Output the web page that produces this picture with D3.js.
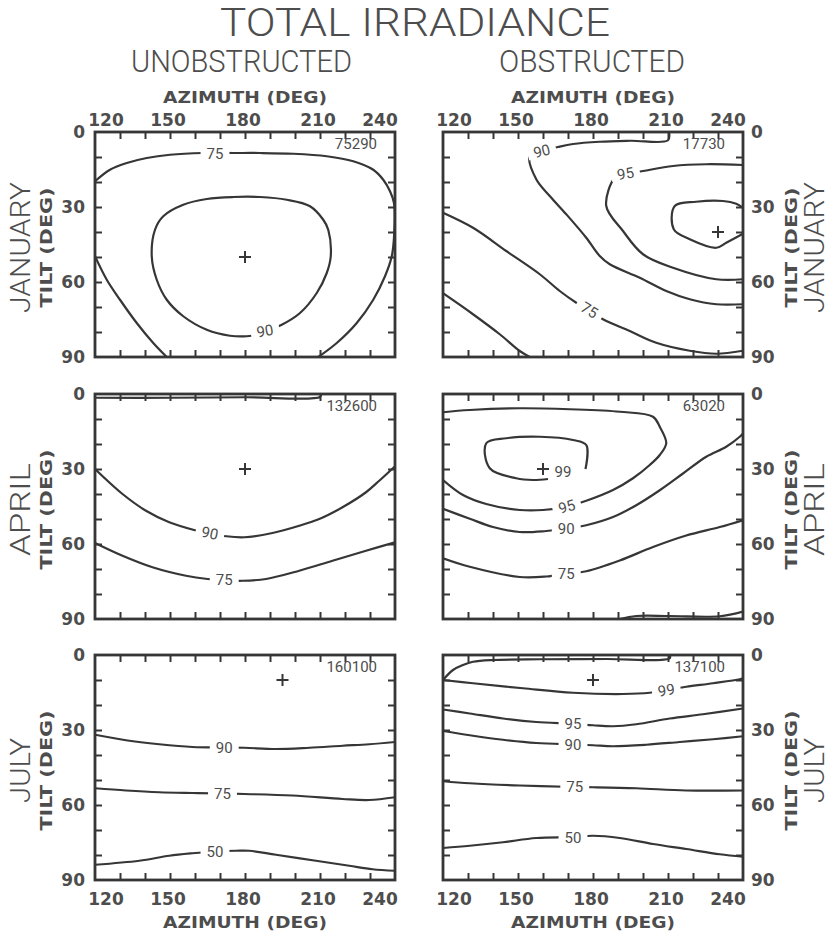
<!DOCTYPE html>
<html>
<head>
<meta charset="utf-8">
<script src="https://cdn.jsdelivr.net/npm/d3@7"></script>
<style>
body { margin: 0; background: #fff; }
</style>
</head>
<body>
<svg id="chart" width="832" height="933"></svg>
<script>
// ---- data ----
var title = 'TOTAL IRRADIANCE';
var columns = ['UNOBSTRUCTED', 'OBSTRUCTED'];
var months = ['JANUARY', 'APRIL', 'JULY'];
var azTicks = [120, 150, 180, 210, 240];
var tiltTicks = [0, 30, 60, 90];
var azTitle = 'AZIMUTH (DEG)';
var tiltTitle = 'TILT (DEG)';

// peak irradiance printed in each panel corner [row][col]
var peaks = [['75290', '17730'], ['132600', '63020'], ['160100', '137100']];
// optimum (azimuth, tilt) marked by +
var maxima = [[[180, 50], [230, 40]], [[180, 30], [160, 30]], [[195, 10], [180, 10]]];

// contours: level (null = unlabeled), label position [az, tilt], points [az, tilt]
var janUnobs = [
	{level: 75, label: [168, 8.6], pts: [[120,19.7],[126,15.1],[132.7,12.4],[140.7,10.4],[150,9.1],[163.3,8.4],[175.3,8.4],[186,8.4],[199.3,8.7],[212.7,9.7],[223.3,11.7],[231.3,15.1],[235.3,19.1],[238,23.7],[239.6,28.4],[239.7,40.4],[238.7,49.7],[236,57.7],[231.3,67.1],[224.7,76.4],[216.7,84.4],[209.3,90]]},
	{level: null, pts: [[120,49.7],[124.7,59.1],[130,67.1],[136.7,76.4],[143.3,84.4],[148.7,90]]},
	{level: 90, label: [188, 79.5], closed: true, pts: [[194.7,77.1],[202,72.4],[208.7,64.4],[212.7,56.4],[214.3,49.7],[213.3,39.1],[211.3,35.1],[206,29.7],[196.7,27.1],[186,26],[175.3,26],[164.7,26.8],[155.3,29.1],[147.3,33.7],[144,39.1],[142.7,49.7],[144.7,59.1],[148.7,67.1],[155.3,73.7],[164.7,79.1],[174,81.5],[180.7,81.7],[185,81]]}
];
var janObs = [
	{level: 90, label: [159.5, 7.6], pts: [[210.4,0],[210,3.3],[195,3.5],[182.7,3.9],[172,4.8],[166,6],[159,7.8],[154.7,9.6],[157.3,18.9],[162.7,25.6],[169.3,32.9],[177.3,42.3],[182.7,49.6],[186.7,52.9],[198.7,58.3],[209.3,63.6],[218.7,66.9],[229.3,68.9],[240,68.9]]},
	{level: 95, label: [193, 16.6], pts: [[240,13.2],[225.3,12.9],[212,13.6],[200,15.6],[192,17],[188.7,18.3],[185.3,29.6],[192,39.6],[200,48.9],[212,54.3],[229.3,58.9],[240,58.9]]},
	{level: null, pts: [[240,30.3],[237.3,28.7],[232,27.6],[221.3,27.9],[212.7,29.6],[212.3,38.9],[218.7,42.9],[229.3,46.3],[233.3,44.3],[240,40.7]]},
	{level: 75, label: [178.6, 71.2], pts: [[120,32.3],[132,38.3],[145.3,47.6],[158.7,56.9],[166.7,63.6],[173.3,68.3],[178.7,71.5],[184,74.9],[194.7,79.6],[205.3,84.3],[218.7,87.5],[229.3,88.7],[240,87.5]]},
	{level: null, pts: [[120,64.5],[132,72.9],[142.7,80.9],[150.7,87.6],[154.7,90]]}
];
var aprUnobs = [
	{level: null, pts: [[120,1.5],[150,1.5],[180,1.3],[210,1.2],[210.5,0]]},
	{level: 90, label: [166, 55.6], pts: [[120,30],[131,40],[140.4,46.7],[149.7,51.3],[160,54.5],[166,55.8],[172.4,56.9],[179.7,57.3],[191,55.6],[201.7,52.7],[209.7,50],[219,45.3],[228.4,39.3],[233.7,34.7],[240,28.9]]},
	{level: 75, label: [171.7, 74.2], pts: [[120,59.6],[131,64.7],[143,69.3],[156.4,72.7],[165,74],[171.7,74.5],[179,74.7],[188.4,74],[201.7,70.7],[215,66.7],[228.4,62.7],[240,59.3]]}
];
var aprObs = [
	{level: 95, label: [169.5, 45], pts: [[120,7.3],[130.7,6.4],[150.7,5.7],[170.7,6.1],[190.7,7.1],[204,9.1],[206.7,13.1],[209.3,19.7],[206.7,24.4],[202.7,28.4],[196,33.7],[188,38.4],[177.3,42.7],[169.3,45.1],[160,46.4],[150.7,46.4],[137.3,44],[128,40.4],[120,34.4]]},
	{level: 99, label: [168, 31], pts: [[177,30],[177.3,20.4],[172,18.4],[158.7,17.1],[145.3,17.7],[137.3,19.7],[138.7,29.7],[149.3,33.7],[156,34.4],[162,34]]},
	{level: 90, label: [169.3, 54], pts: [[120,45.9],[130.7,49.9],[140,53.2],[150.7,55.2],[161.3,54.8],[169.3,53.9],[177.3,52.5],[188,49.2],[197.3,44.5],[206.7,38.5],[216,31.8],[225.3,25.1],[233.3,21.1],[238.7,17.1],[240,15.8]]},
	{level: 75, label: [169.3, 72], pts: [[120,65.7],[130.7,69.1],[150.7,73.2],[161.3,73],[169.3,71.9],[177.3,70.9],[190.7,66.6],[204,61.2],[217.3,56.6],[230.7,53.2],[240,50.5]]},
	{level: null, pts: [[190.7,90],[197.3,88.8],[210.7,88.8],[230.7,88.9],[240,87]]}
];
var julUnobs = [
	{level: 90, label: [171.7, 36.9], pts: [[120,31.9],[132.4,34.1],[145.7,35.7],[159,36.8],[171.7,37],[179.7,37.1],[192.4,37.6],[205.7,37.1],[219,36.3],[229.7,35.7],[240,34.8]]},
	{level: 75, label: [171, 55.3], pts: [[120,53.3],[132.4,54.2],[145.7,54.9],[159,55.2],[171,55.4],[179.7,55.6],[199,56.2],[219,57.6],[229.7,58],[240,56.9]]},
	{level: 50, label: [168, 78.7], pts: [[120,83.9],[137.7,82.3],[149.7,80.3],[159,79.3],[167.7,78.6],[176.4,78.3],[181.7,78.3],[192.4,79.9],[208.4,82.3],[221.7,84.3],[231,85.7],[240,86.3]]}
];
var julObs = [
	{level: null, pts: [[120,10],[124,6],[128,4],[132,2.7],[140,2],[158.7,1.7],[185.3,1.6],[210.7,1.3],[210.7,0]]},
	{level: 99, label: [209.3, 14], pts: [[120,10],[132,11.3],[152,13.3],[172,15.1],[192,15.6],[202.7,15.1],[209.3,14],[217.3,12.7],[228,11.3],[238.7,9.7],[240,9.3]]},
	{level: 95, label: [172, 27.4], pts: [[120,21.8],[130.7,23.4],[144,25.4],[157.3,26.8],[172,27.5],[180,28.1],[188,28.5],[197.3,27.7],[210.7,25.4],[224,23.7],[240,21.4]]},
	{level: 90, label: [172, 35.8], pts: [[120,30.4],[130.7,32.1],[144,33.9],[157.3,35.2],[172,35.8],[180,36.1],[188,36.5],[201.3,35.9],[214.7,34.8],[228,33.7],[240,32.5]]},
	{level: 75, label: [172.7, 52.8], pts: [[120,50.5],[130.7,51.3],[150.7,52.2],[172.7,52.8],[180,52.9],[197.3,53.3],[217.3,54.2],[240,54.2]]},
	{level: 50, label: [172, 72.9], pts: [[120,77.2],[130.7,76.3],[144,74.9],[157.3,73.2],[172,72.8],[180,72.3],[190.7,73.2],[204,75.6],[217.3,77.6],[230.7,79.7],[240,80.7]]}
];
var panels = [[janUnobs, janObs], [aprUnobs, aprObs], [julUnobs, julObs]];

// ---- layout ----
var colX = [95, 443];
var rowY = [132, 394, 655];
var pw = 300, ph = 225;
var ink = '#363636';
var grey = '#4d4d4d';
var thin = 'Roboto, "Liberation Sans", sans-serif';
var bold = '"DejaVu Sans", sans-serif';

var svg = d3.select('#chart');

svg.append('text')
	.text(title)
	.attr('x', 415).attr('y', 36)
	.attr('text-anchor', 'middle')
	.attr('font-family', thin).attr('font-weight', 300)
	.attr('font-size', 38)
	.attr('textLength', 390).attr('lengthAdjust', 'spacingAndGlyphs')
	.attr('fill', grey);

var colLens = [221, 186];
var colCx = [241.5, 592];
svg.selectAll('text.col')
	.data(columns)
	.enter()
	.append('text')
	.attr('class', 'col')
	.text(function (d) {return d;})
	.attr('x', function (d, i) {return colCx[i];})
	.attr('y', 72)
	.attr('text-anchor', 'middle')
	.attr('font-family', thin).attr('font-weight', 300)
	.attr('font-size', 31)
	.attr('textLength', function (d, i) {return colLens[i];})
	.attr('lengthAdjust', 'spacingAndGlyphs')
	.attr('fill', grey);

var monthLens = [131, 93, 65];

function labelAngle(pts, az, t, x, y) {
	var px = x(az), py = y(t), best = Infinity, ang = 0;
	for (var i = 0; i < pts.length - 1; i++) {
		var ax = x(pts[i][0]), ay = y(pts[i][1]);
		var dx = x(pts[i + 1][0]) - ax, dy = y(pts[i + 1][1]) - ay;
		var L = dx * dx + dy * dy;
		var u = L ? Math.max(0, Math.min(1, ((px - ax) * dx + (py - ay) * dy) / L)) : 0;
		var cx = ax + u * dx, cy = ay + u * dy;
		var d = (px - cx) * (px - cx) + (py - cy) * (py - cy);
		if (d < best) {best = d; ang = Math.atan2(dy, dx) * 180 / Math.PI;}
	}
	if (ang > 90) ang -= 180;
	if (ang < -90) ang += 180;
	return Math.abs(ang) < 9 ? 0 : ang;
}

panels.forEach(function (row, r) {
	row.forEach(function (contours, c) {
		var x0 = colX[c], y0 = rowY[r];
		var x = d3.scaleLinear().domain([120, 240]).range([x0, x0 + pw]);
		var y = d3.scaleLinear().domain([0, 90]).range([y0, y0 + ph]);
		var g = svg.append('g');
		var clipId = 'clip' + r + c;
		g.append('clipPath').attr('id', clipId)
			.append('rect').attr('x', x0).attr('y', y0).attr('width', pw).attr('height', ph);

		var lines = g.append('g').attr('clip-path', 'url(#' + clipId + ')');
		lines.selectAll('path')
			.data(contours)
			.enter()
			.append('path')
			.attr('d', function (d) {
				return d3.line()
					.x(function (p) {return x(p[0]);})
					.y(function (p) {return y(p[1]);})
					.curve(d.closed ? d3.curveCatmullRomClosed.alpha(0.5) : d3.curveCatmullRom.alpha(0.5))(d.pts);
			})
			.attr('fill', 'none')
			.attr('stroke', ink)
			.attr('stroke-width', 2.2);

		// contour labels sit in a white gap cut out of the line
		contours.filter(function (d) {return d.level !== null;}).forEach(function (d) {
			var ang = labelAngle(d.pts, d.label[0], d.label[1], x, y);
			var lg = lines.append('g')
				.attr('transform', 'translate(' + x(d.label[0]) + ',' + y(d.label[1]) + ') rotate(' + ang + ')');
			var t = lg.append('text')
				.text(d.level)
				.attr('text-anchor', 'middle')
				.attr('dy', '0.36em')
				.attr('font-family', thin)
				.attr('font-size', 15)
				.attr('fill', grey);
			var bb = t.node().getBBox();
			lg.insert('rect', 'text')
				.attr('x', bb.x - 6).attr('y', -6)
				.attr('width', bb.width + 12).attr('height', 12)
				.attr('fill', '#fff');
		});

		// optimum marker
		g.append('path')
			.attr('d', 'M-6,0H6M0,-6V6')
			.attr('transform', 'translate(' + x(maxima[r][c][0]) + ',' + y(maxima[r][c][1]) + ')')
			.attr('stroke', ink)
			.attr('stroke-width', 2);

		// inward ticks every 10 degrees
		var azMinor = d3.range(130, 240, 10), tiltMinor = d3.range(10, 90, 10);
		[[d3.axisTop(x).tickValues(azMinor), 'translate(0,' + y0 + ')'],
		 [d3.axisBottom(x).tickValues(azMinor), 'translate(0,' + (y0 + ph) + ')'],
		 [d3.axisLeft(y).tickValues(tiltMinor), 'translate(' + x0 + ',0)'],
		 [d3.axisRight(y).tickValues(tiltMinor), 'translate(' + (x0 + pw) + ',0)']
		].forEach(function (a) {
			var ax = g.append('g')
				.attr('transform', a[1])
				.call(a[0].tickSizeInner(-7).tickSizeOuter(0).tickFormat(''));
			ax.select('.domain').remove();
			ax.selectAll('line').attr('stroke', ink).attr('stroke-width', 2);
		});

		g.append('rect')
			.attr('x', x0).attr('y', y0).attr('width', pw).attr('height', ph)
			.attr('fill', 'none')
			.attr('stroke', ink)
			.attr('stroke-width', 2.8);

		g.append('text')
			.text(peaks[r][c])
			.attr('x', x0 + pw - 18).attr('y', y0 + 17)
			.attr('text-anchor', 'end')
			.attr('font-family', thin)
			.attr('font-size', 15)
			.attr('fill', grey);

		// tilt tick labels: left column on the left, right column on the right
		g.selectAll('text.tilt')
			.data(tiltTicks)
			.enter()
			.append('text')
			.attr('class', 'tilt')
			.text(function (d) {return d;})
			.attr('x', c === 0 ? x0 - 10 : x0 + pw + 8)
			.attr('y', function (d) {return y(d);})
			.attr('dy', '0.36em')
			.attr('text-anchor', c === 0 ? 'end' : 'start')
			.attr('font-family', bold).attr('font-weight', 'bold')
			.attr('font-size', 17)
			.attr('fill', grey);

		var cy = y0 + ph / 2 + 3;
		var tx = c === 0 ? 52 : 797;
		g.append('text')
			.text(tiltTitle)
			.attr('transform', 'translate(' + tx + ',' + cy + ') rotate(-90)')
			.attr('text-anchor', 'middle')
			.attr('font-family', bold).attr('font-weight', 'bold')
			.attr('font-size', 16)
			.attr('textLength', 120).attr('lengthAdjust', 'spacingAndGlyphs')
			.attr('fill', grey);
		var mx = c === 0 ? 30 : 824;
		g.append('text')
			.text(months[r])
			.attr('transform', 'translate(' + mx + ',' + cy + ') rotate(-90)')
			.attr('text-anchor', 'middle')
			.attr('font-family', thin).attr('font-weight', 300)
			.attr('font-size', 28)
			.attr('textLength', monthLens[r])
			.attr('lengthAdjust', 'spacingAndGlyphs')
			.attr('fill', grey);

		// azimuth labels on the top and bottom rows
		if (r === 0 || r === 2) {
			var top = r === 0;
			g.selectAll('text.az')
				.data(azTicks)
				.enter()
				.append('text')
				.attr('class', 'az')
				.text(function (d) {return d;})
				.attr('x', function (d, i) {
					return x(d) + (i === 0 ? 11 : i === azTicks.length - 1 ? -15 : -2);
				})
				.attr('y', top ? y0 - 6 : y0 + ph + 25)
				.attr('text-anchor', 'middle')
				.attr('font-family', bold).attr('font-weight', 'bold')
				.attr('font-size', 17)
				.attr('fill', grey);
			g.append('text')
				.text(azTitle)
				.attr('x', x0 + pw / 2)
				.attr('y', top ? y0 - 29 : y0 + ph + 48)
				.attr('text-anchor', 'middle')
				.attr('font-family', bold).attr('font-weight', 'bold')
				.attr('font-size', 15)
				.attr('textLength', 164).attr('lengthAdjust', 'spacingAndGlyphs')
				.attr('fill', grey);
		}
	});
});
</script>
</body>
</html>
